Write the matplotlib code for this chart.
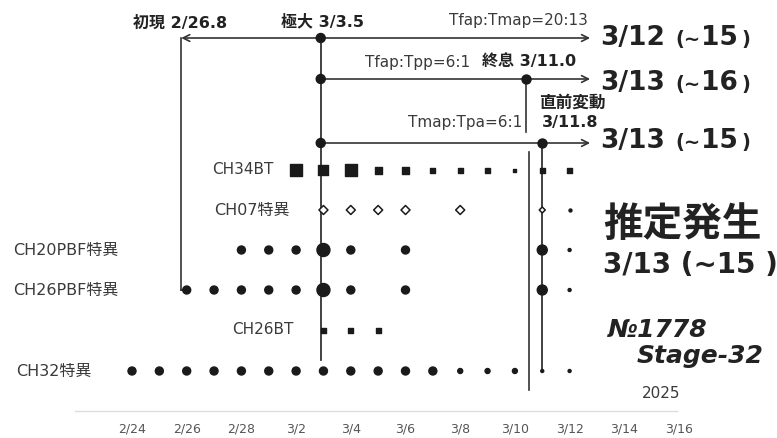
import matplotlib.pyplot as plt

plt.rcParams['font.family'] = ['DejaVu Sans', 'Noto Sans CJK JP']

# x = days counted from 2/24
tick_days = [0, 2, 4, 6, 8, 10, 12, 14, 16, 18, 20]
tick_labels = ['2/24', '2/26', '2/28', '3/2', '3/4', '3/6', '3/8',
               '3/10', '3/12', '3/14', '3/16']

# marker sizes are in pixels
ch34bt_days = [6, 7, 8, 9, 10, 11, 12, 13, 14, 15, 16]
ch34bt_size = [12, 10, 12, 7, 7, 5, 5, 5, 3, 5, 5]
ch07_days = [7, 8, 9, 10, 12, 15]
ch07_size = [9, 9, 9, 9, 9, 6]
ch07_dot_days = [16]
ch20pbf_days = [4, 5, 6, 7, 8, 10, 15, 16]
ch20pbf_size = [8, 8, 8, 13, 8, 8, 10, 3]
ch26pbf_days = [2, 3, 4, 5, 6, 7, 8, 10, 15, 16]
ch26pbf_size = [8, 8, 8, 8, 8, 13, 8, 8, 10, 3]
ch26bt_days = [7, 8, 9]
ch26bt_size = [5, 5, 5]
ch32_days = [0, 1, 2, 3, 4, 5, 6, 7, 8, 9, 10, 11, 12, 13, 14, 15, 16]
ch32_size = [8, 8, 8, 8, 8, 8, 8, 8, 8, 8, 8, 8, 5, 5, 5, 3, 3]

# event days (as placed in the picture)
first_day = 1.8     # 初現 2/26.8
peak_day = 6.9      # 極大 3/3.5
end_day = 14.4      # 終息 3/11.0
pre_day = 15.0      # 直前変動 3/11.8
arrow_day = 16.75

# vertical layout (pixels from top)
y_top, y_mid, y_low = 38, 79, 143
y_rows = {'CH34BT': 170, 'CH07': 210, 'CH20PBF': 250, 'CH26PBF': 290,
          'CH26BT': 330, 'CH32': 371}

px = 27.35  # pixels per day
fig = plt.figure(figsize=(7.77, 4.38), dpi=100)
ax = fig.add_axes([0, 0, 1, 1])
ax.set_xlim(-132 / px, (777 - 132) / px)
ax.set_ylim(438, 0)
ax.axis('off')

lc = '#333333'
mc = '#1a1a1a'


def pt(sizes):
    return [(s * 0.72) ** 2 for s in sizes]


# vertical lines
ax.plot([first_day, first_day], [y_top, y_rows['CH26PBF']], color=lc, lw=1.2)
ax.plot([first_day, ch26pbf_days[0]], [y_rows['CH26PBF']] * 2, color=lc, lw=1.2)
ax.plot([peak_day, peak_day], [y_top, 360], color=lc, lw=1.3)
ax.plot([end_day, end_day], [y_mid, 132], color=lc, lw=1.2)
ax.plot([end_day + 0.1, end_day + 0.1], [152, 390], color=lc, lw=1.2)
ax.plot([pre_day, pre_day], [y_low, y_rows['CH32']], color=lc, lw=1.3)

# horizontal arrows
aprops = dict(arrowstyle='->', color=lc, lw=1.2, mutation_scale=12,
              shrinkA=0, shrinkB=0)
ax.annotate('', xy=(first_day, y_top), xytext=(peak_day, y_top), arrowprops=aprops)
for y in (y_top, y_mid, y_low):
    ax.annotate('', xy=(arrow_day, y), xytext=(peak_day, y), arrowprops=aprops)
ax.scatter([peak_day] * 3, [y_top, y_mid, y_low], s=pt([9, 9, 9]), color=mc, zorder=5)
ax.scatter([end_day], [y_mid], s=pt([9]), color=mc, zorder=5)
ax.scatter([pre_day], [y_low], s=pt([9]), color=mc, zorder=5)

# data rows
ax.scatter(ch34bt_days, [y_rows['CH34BT']] * len(ch34bt_days), s=pt(ch34bt_size),
           marker='s', color=mc, zorder=4)
ax.scatter(ch07_days, [y_rows['CH07']] * len(ch07_days),
           s=pt([v / 1.414 for v in ch07_size]), marker='D',
           facecolor='white', edgecolor=mc, linewidth=1.1, zorder=4)
ax.scatter(ch07_dot_days, [y_rows['CH07']], s=pt([3]), color=mc, zorder=4)
ax.scatter(ch20pbf_days, [y_rows['CH20PBF']] * len(ch20pbf_days), s=pt(ch20pbf_size),
           color=mc, zorder=4)
ax.scatter(ch26pbf_days, [y_rows['CH26PBF']] * len(ch26pbf_days), s=pt(ch26pbf_size),
           color=mc, zorder=4)
ax.scatter(ch26bt_days, [y_rows['CH26BT']] * len(ch26bt_days), s=pt(ch26bt_size),
           marker='s', color=mc, zorder=4)
ax.scatter(ch32_days, [y_rows['CH32']] * len(ch32_days), s=pt(ch32_size),
           color=mc, zorder=4)

# row labels
tc = '#3a3a3a'
ax.text(5.16, y_rows['CH34BT'], 'CH34BT', ha='right', va='center', fontsize=11, color=tc)
ax.text(5.78, y_rows['CH07'], 'CH07特異', ha='right', va='center', fontsize=11.5, color=tc)
ax.text(-4.35, y_rows['CH20PBF'], 'CH20PBF特異', ha='left', va='center', fontsize=11.5, color=tc)
ax.text(-4.35, y_rows['CH26PBF'], 'CH26PBF特異', ha='left', va='center', fontsize=11.5, color=tc)
ax.text(5.92, y_rows['CH26BT'], 'CH26BT', ha='right', va='center', fontsize=11, color=tc)
ax.text(-4.24, y_rows['CH32'], 'CH32特異', ha='left', va='center', fontsize=11.5, color=tc)

# event labels
bc = '#222222'
ax.text(1.75, 23, '初現 2/26.8', ha='center', va='center', fontsize=11.5,
        fontweight='bold', color=bc)
ax.text(6.98, 22, '極大 3/3.5', ha='center', va='center', fontsize=11.5,
        fontweight='bold', color=bc)
ax.text(16.67, 20, 'Tfap:Tmap=20:13', ha='right', va='center', fontsize=11, color=tc)
ax.text(12.36, 62, 'Tfap:Tpp=6:1', ha='right', va='center', fontsize=11, color=tc)
ax.text(12.8, 61, '終息 3/11.0', ha='left', va='center', fontsize=11.5,
        fontweight='bold', color=bc)
ax.text(14.88, 103, '直前変動', ha='left', va='center', fontsize=12,
        fontweight='bold', color=bc)
ax.text(15.0, 123, '3/11.8', ha='left', va='center', fontsize=11.5,
        fontweight='bold', color=bc)
ax.text(14.26, 123, 'Tmap:Tpa=6:1', ha='right', va='center', fontsize=11, color=tc)

# predicted dates at arrow ends
for base, date, rng in ((45, '3/12', '15'), (90, '3/13', '16'), (148, '3/13', '15')):
    ax.text(17.11, base, date, ha='left', va='baseline', fontsize=19,
            fontweight='bold', color=bc)
    ax.text(19.85, base, '(∼', ha='left', va='baseline', fontsize=14,
            fontweight='bold', color=bc)
    ax.text(20.8, base, rng, ha='left', va='baseline', fontsize=19,
            fontweight='bold', color=bc)
    ax.text(22.3, base, ')', ha='left', va='baseline', fontsize=14,
            fontweight='bold', color=bc)

ax.text(17.22, 236, '推定発生', ha='left', va='baseline', fontsize=28.5,
        fontweight='bold', color=bc)
ax.text(17.22, 273, '3/13 (∼15 )', ha='left', va='baseline', fontsize=20,
        fontweight='bold', color=bc)

ax.text(17.4, 337, '№1778', ha='left', va='baseline', fontsize=18,
        fontweight='bold', style='italic', color=bc)
ax.text(18.46, 363, 'Stage-32', ha='left', va='baseline', fontsize=18,
        fontweight='bold', style='italic', color=bc)
ax.text(18.65, 398, '2025', ha='left', va='baseline', fontsize=11, color=tc)

# date axis
ax.plot([-2.08, 19.93], [411, 411], color='#dddddd', lw=1)
for d, lab in zip(tick_days, tick_labels):
    ax.text(d, 429, lab, ha='center', va='center', fontsize=9, color='#555555')

fig.savefig('out.png', dpi=100)
